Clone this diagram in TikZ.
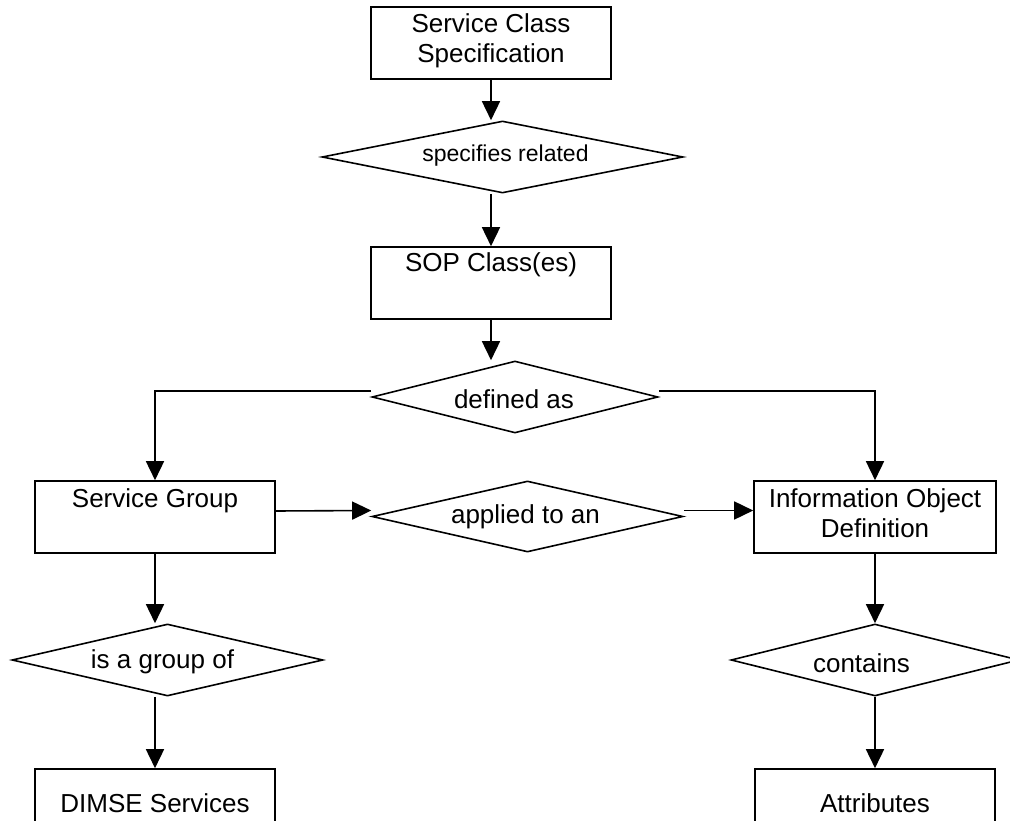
\documentclass[tikz,border=0pt]{standalone}
\usepackage{fontspec}
\setmainfont{Liberation Sans}
\usetikzlibrary{shapes.geometric,arrows.meta}
\begin{document}
\begin{tikzpicture}[x=1pt,y=-1pt,
  boxnode/.style={draw,line width=1.6pt,rectangle,minimum width=240pt,minimum height=72pt,inner sep=0pt},
  dianode/.style={draw,line width=1.6pt,shape=diamond,inner sep=0pt},
  txt/.style={anchor=base,inner sep=0pt,align=center,font=\fontsize{26}{30}\selectfont},
  conn/.style={line width=1.6pt,-{Triangle[length=19pt,width=18pt]}}]
\useasboundingbox (0,0) rectangle (1010,821);
\clip (0,0) rectangle (1010,821);
% boxes
\node[boxnode] (scs) at (491,43) {};
\node[boxnode] (sop) at (491,283) {};
\node[boxnode] (sg) at (155,517) {};
\node[boxnode,minimum width=242pt] (iod) at (875,517) {};
\node[boxnode] (dimse) at (155,805) {};
\node[boxnode] (attr) at (875,805) {};
% diamonds
\node[dianode,minimum width=361pt,minimum height=72pt] (spec) at (502.5,157) {};
\node[dianode,minimum width=286pt,minimum height=72pt] (def) at (515,397) {};
\node[dianode,minimum width=311pt,minimum height=71pt] (app) at (527.5,516.5) {};
\node[dianode,minimum width=311pt,minimum height=72pt] (grp) at (167.5,660) {};
\node[dianode,minimum width=288pt,minimum height=72pt] (cont) at (875,660) {};
% texts (anchor base = baseline of last line)
\node[txt] (scsT) at (491,63) {Service Class\\Specification};
\node[txt] (sopT) at (491,272) {SOP Class(es)};
\node[txt,font=\fontsize{23}{27}\selectfont] (specT) at (505.5,162) {specifies related};
\node[txt] (defT) at (514,408) {defined as};
\node[txt] (sgT) at (155,507) {Service Group};
\node[txt] (appT) at (525.5,523) {applied to an};
\node[txt] (iodT) at (875,537) {Information Object\\Definition};
\node[txt] (grpT) at (162.5,668) {is a group of};
\node[txt] (contT) at (861.5,672) {contains};
\node[txt] (dimseT) at (155,812) {DIMSE Services};
\node[txt] (attrT) at (875,812) {Attributes};
% connectors
\draw[conn] (scs.south) -- (scs.south |- spec.north);
\draw[conn] (sop.north |- spec.south) -- (sop.north);
\draw[conn] (sop.south) -- (sop.south |- def.north);
\draw[conn] ([yshift=6pt]def.west) -| (sg.north);
\draw[conn] ([yshift=6pt]def.east) -| (iod.north);
\draw[conn] ([yshift=6pt]sg.east) -- ([yshift=6pt]app.west);
\draw[conn] ([yshift=6pt]app.east) -- ([yshift=6pt]app.east -| iod.west);
\draw[conn] (sg.south) -- (sg.south |- grp.north);
\draw[conn] (dimse.north |- grp.south) -- (dimse.north);
\draw[conn] (iod.south) -- (iod.south |- cont.north);
\draw[conn] (cont.south) -- (attr.north);
\end{tikzpicture}
\end{document}
